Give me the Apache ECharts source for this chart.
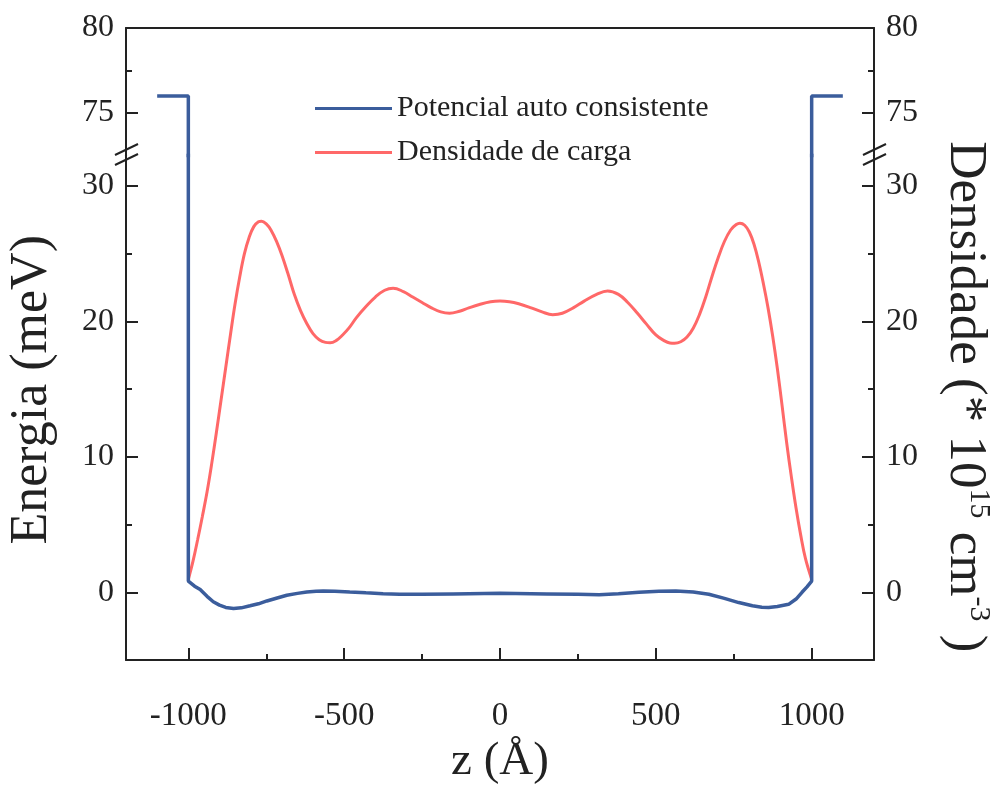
<!DOCTYPE html>
<html>
<head>
<meta charset="utf-8">
<script src="https://cdn.jsdelivr.net/npm/echarts@6/dist/echarts.min.js"></script>
<style>
html,body{margin:0;padding:0;background:#fff;}
#chart{width:999px;height:797px;}
</style>
</head>
<body>
<div id="chart"></div>
<script>
// ---- Data ----
var xTicks = [-1000, -500, 0, 500, 1000];
var xMinorTicks = [-750, -250, 250, 750];
var yUpperTicks = [75, 80];
var yUpperMinor = [77.5];
var yLowerTicks = [0, 10, 20, 30];
var yLowerMinor = [5, 15, 25];

var potencialName = 'Potencial auto consistente';
var densidadeName = 'Densidade de carga';

var zPotencial = [-1100, -1000, -1000, -980, -962, -940, -920, -900, -880, -855, -830, -802, -775, -748, -715, -684, -650, -620, -590, -567, -530, -482, -430, -375, -322, -250, -150, 0, 150, 250, 318, 380, 446, 510, 564, 620, 670, 720, 766, 810, 840, 862, 890, 926, 950, 969, 985, 1000, 1000, 1100];
var potencial = [76, 76, 0.83, 0.45, 0.2, -0.3, -0.7, -0.95, -1.12, -1.2, -1.15, -1.0, -0.85, -0.64, -0.42, -0.22, -0.08, 0.02, 0.08, 0.1, 0.08, 0.02, -0.04, -0.1, -0.15, -0.15, -0.12, -0.08, -0.12, -0.15, -0.18, -0.1, 0.0, 0.08, 0.1, 0.02, -0.15, -0.45, -0.76, -1.0, -1.1, -1.13, -1.05, -0.89, -0.5, 0.0, 0.4, 0.83, 76, 76];

var zDensidade = [-1000, -985, -970, -955, -940, -925, -910, -895, -880, -865, -850, -835, -820, -805, -790, -775, -765, -750, -735, -715, -700, -680, -660, -640, -620, -600, -580, -560, -545, -525, -505, -485, -460, -430, -400, -370, -343, -310, -280, -250, -220, -190, -162, -130, -100, -66, -30, 0, 30, 60, 100, 135, 169, 200, 235, 270, 310, 345, 380, 410, 441, 470, 500, 525, 545, 560, 580, 600, 620, 640, 660, 680, 700, 720, 740, 758, 770, 785, 800, 815, 830, 845, 860, 875, 890, 905, 920, 935, 950, 965, 980, 1000];
var densidade = [0.96, 2.3, 3.9, 5.6, 7.4, 9.5, 11.8, 14.2, 16.6, 19.0, 21.3, 23.3, 25.0, 26.2, 27.0, 27.35, 27.4, 27.2, 26.75, 25.8, 24.9, 23.5, 22.0, 20.8, 19.85, 19.1, 18.65, 18.45, 18.42, 18.6, 19.0, 19.5, 20.3, 21.1, 21.8, 22.3, 22.45, 22.2, 21.8, 21.4, 21.0, 20.7, 20.6, 20.75, 21.0, 21.25, 21.45, 21.5, 21.45, 21.3, 21.0, 20.7, 20.5, 20.6, 21.0, 21.5, 22.0, 22.25, 22.0, 21.4, 20.6, 19.8, 19.0, 18.6, 18.4, 18.38, 18.5, 18.85, 19.5, 20.5, 21.8, 23.3, 24.7, 25.9, 26.75, 27.15, 27.25, 27.1, 26.6, 25.7, 24.4, 22.8, 21.0, 18.9, 16.5, 13.8, 11.0, 8.5, 6.2, 4.2, 2.5, 0.96];

function pairs(xs, ys) {
  var out = [];
  for (var i = 0; i < xs.length; i++) out.push([xs[i], ys[i]]);
  return out;
}

// ---- Style ----
var FONT = 'Liberation Serif';
var INK = '#222222';
var BLUE = '#3b5d9c';
var RED = '#ff6868';

function fmt(v) { return String(v); }

function yMajor(grid, pos, min, max, ticks, extra) {
  var a = {
    type: 'value', gridIndex: grid, position: pos, min: min, max: max,
    axisLine: { show: true, onZero: false, lineStyle: { color: INK, width: 2 } },
    axisTick: { show: true, inside: true, length: 12, customValues: ticks, lineStyle: { color: INK, width: 2 } },
    axisLabel: { show: true, customValues: ticks, formatter: fmt, margin: 12, color: INK, fontFamily: FONT, fontSize: 32 },
    splitLine: { show: false }
  };
  if (extra) for (var k in extra) a[k] = extra[k];
  return a;
}
function yMinor(grid, pos, min, max, ticks) {
  return {
    type: 'value', gridIndex: grid, position: pos, min: min, max: max,
    axisLine: { show: false, onZero: false },
    axisTick: { show: true, inside: true, length: 6, customValues: ticks, lineStyle: { color: INK, width: 2 } },
    axisLabel: { show: false },
    splitLine: { show: false }
  };
}

var chart = echarts.init(document.getElementById('chart'), null, { renderer: 'canvas' });

var upMin = 72.5, upMax = 80, loMin = -5, loMax = 32.25;

var option = {
  animation: false,
  backgroundColor: '#ffffff',
  grid: [
    { left: 126, right: 125, top: 28, height: 127.5, containLabel: false, outerBoundsMode: 'none' },
    { left: 126, right: 125, top: 155.5, height: 504.5, containLabel: false, outerBoundsMode: 'none' }
  ],
  legend: {
    data: [potencialName, densidadeName],
    orient: 'vertical',
    left: 310, top: 88,
    icon: 'rect', itemWidth: 77, itemHeight: 3, itemGap: 13,
    textStyle: { fontFamily: FONT, fontSize: 30, color: INK, lineHeight: 31 }
  },
  xAxis: [
    {
      type: 'value', gridIndex: 0, position: 'top', min: -1200, max: 1200,
      axisLine: { show: true, onZero: false, lineStyle: { color: INK, width: 2 } },
      axisTick: { show: false }, axisLabel: { show: false }, splitLine: { show: false }
    },
    {
      type: 'value', gridIndex: 1, position: 'bottom', min: -1200, max: 1200,
      name: 'z (Å)', nameLocation: 'middle', nameGap: 78,
      nameTextStyle: { fontFamily: FONT, fontSize: 47, color: INK },
      axisLine: { show: true, onZero: false, lineStyle: { color: INK, width: 2 } },
      axisTick: { show: true, inside: true, length: 12, customValues: xTicks, lineStyle: { color: INK, width: 2 } },
      axisLabel: { show: true, customValues: xTicks, formatter: fmt, margin: 40, color: INK, fontFamily: FONT, fontSize: 33 },
      splitLine: { show: false }
    },
    {
      type: 'value', gridIndex: 1, position: 'bottom', min: -1200, max: 1200,
      axisLine: { show: false, onZero: false },
      axisTick: { show: true, inside: true, length: 6, customValues: xMinorTicks, lineStyle: { color: INK, width: 2 } },
      axisLabel: { show: false }, splitLine: { show: false }
    }
  ],
  yAxis: [
    yMajor(0, 'left', upMin, upMax, yUpperTicks),
    yMinor(0, 'left', upMin, upMax, yUpperMinor),
    yMajor(0, 'right', upMin, upMax, yUpperTicks),
    yMinor(0, 'right', upMin, upMax, yUpperMinor),
    yMajor(1, 'left', loMin, loMax, yLowerTicks, {
      name: 'Energia (meV)', nameLocation: 'middle', nameGap: 68, nameRotate: 90,
      nameTextStyle: { fontFamily: FONT, fontSize: 52, color: INK, padding: [0, 0, 0, 36] }
    }),
    yMinor(1, 'left', loMin, loMax, yLowerMinor),
    yMajor(1, 'right', loMin, loMax, yLowerTicks, {
      name: 'Densidade (* 10{sup|15} cm{sup|-3} )', nameLocation: 'middle', nameGap: 62, nameRotate: -90,
      nameTextStyle: {
        fontFamily: FONT, fontSize: 53, color: INK, lineHeight: 58, padding: [0, 22, 0, 0],
        rich: { sup: { fontFamily: FONT, fontSize: 30, color: INK, lineHeight: 32, verticalAlign: 'top' } }
      }
    }),
    yMinor(1, 'right', loMin, loMax, yLowerMinor)
  ],
  series: [
    {
      name: densidadeName, type: 'line', xAxisIndex: 1, yAxisIndex: 6,
      data: pairs(zDensidade, densidade), smooth: 0.4, showSymbol: false, clip: true,
      lineStyle: { color: RED, width: 3 }, itemStyle: { color: RED }
    },
    {
      name: potencialName, type: 'line', xAxisIndex: 0, yAxisIndex: 0,
      data: pairs(zPotencial, potencial), showSymbol: false, clip: true,
      lineStyle: { color: BLUE, width: 3.5 }, itemStyle: { color: BLUE }
    },
    {
      name: potencialName, type: 'line', xAxisIndex: 1, yAxisIndex: 4,
      data: pairs(zPotencial, potencial), showSymbol: false, clip: true,
      lineStyle: { color: BLUE, width: 3.5 }, itemStyle: { color: BLUE }
    }
  ],
  graphic: [
    { type: 'line', shape: { x1: 115, y1: 155, x2: 138, y2: 144 }, style: { stroke: INK, lineWidth: 2 } },
    { type: 'line', shape: { x1: 115, y1: 165, x2: 138, y2: 154 }, style: { stroke: INK, lineWidth: 2 } },
    { type: 'line', shape: { x1: 863, y1: 155, x2: 886, y2: 144 }, style: { stroke: INK, lineWidth: 2 } },
    { type: 'line', shape: { x1: 863, y1: 165, x2: 886, y2: 154 }, style: { stroke: INK, lineWidth: 2 } }
  ]
};
chart.setOption(option);
</script>
</body>
</html>
